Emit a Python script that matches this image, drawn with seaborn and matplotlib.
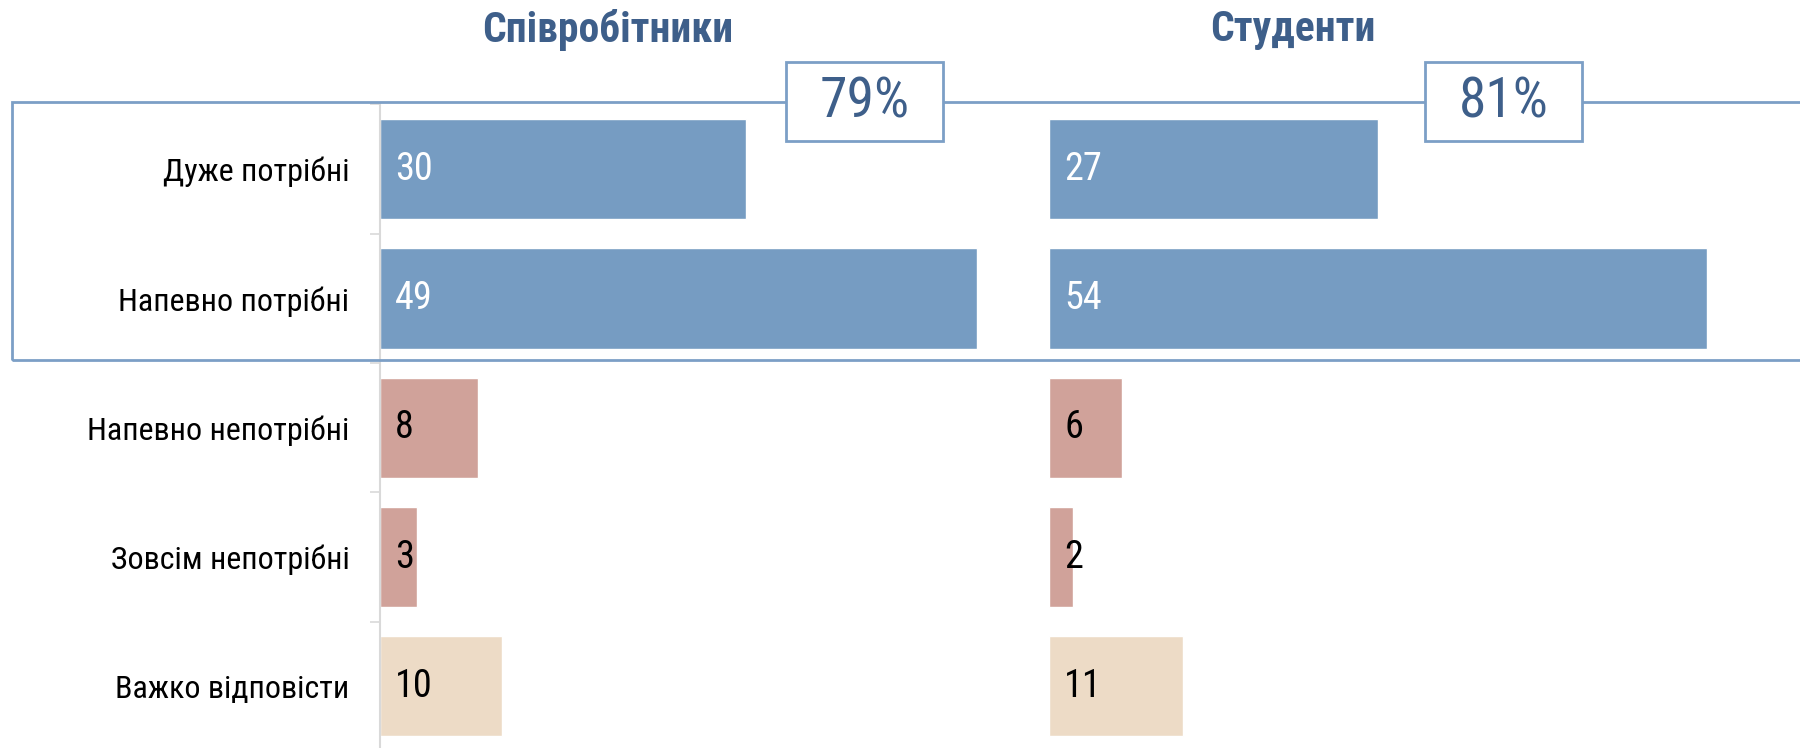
import matplotlib
matplotlib.use("Agg")
import matplotlib.pyplot as plt
from matplotlib import font_manager as fm
from matplotlib.patches import Rectangle
import seaborn as sns
import pandas as pd

categories = ["Дуже потрібні", "Напевно потрібні", "Напевно непотрібні",
              "Зовсім непотрібні", "Важко відповісти"]
staff_values = [30, 49, 8, 3, 10]
student_values = [27, 54, 6, 2, 11]
panel_titles = ["Співробітники", "Студенти"]
summary_labels = ["79%", "81%"]

bar_colors = ["#769CC2", "#769CC2", "#D0A29A", "#D0A29A", "#EDDBC6"]
label_colors = ["white", "white", "black", "black", "black"]
title_color = "#3E5F8A"
frame_color = "#7C9FC6"

sns.set_theme(style="white")
names = {f.name for f in fm.fontManager.ttflist}
cond = None
for n in ["Roboto Condensed", "Liberation Sans Narrow", "Open Sans Condensed"]:
    if n in names:
        cond = n
        break
base = cond if cond else "Roboto"
plt.rcParams["font.family"] = [base, "DejaVu Sans"]
stretch = "normal" if cond else "condensed"

W, H = 1800, 748
fig = plt.figure(figsize=(18, 7.48), dpi=100)

px_per_unit = 12.19
xmax = 55
ax_w = xmax * px_per_unit / W
bottom = 1 - 751 / H
ax_h = (751 - 104.5) / H

axes = [fig.add_axes([380 / W, bottom, ax_w, ax_h]),
        fig.add_axes([1049 / W, bottom, ax_w, ax_h])]
axes[1].patch.set_alpha(0)
axes[0].patch.set_alpha(0)

for i, (ax, vals) in enumerate(zip(axes, [staff_values, student_values])):
    df = pd.DataFrame({"cat": categories, "val": vals})
    sns.barplot(data=df, y="cat", x="val", hue="cat", palette=bar_colors,
                legend=False, orient="h", width=0.775, ax=ax, saturation=1)
    ax.set_xlim(0, xmax)
    ax.set_ylim(4.5, -0.5)
    ax.set_xlabel("")
    ax.set_ylabel("")
    ax.set_xticks([])
    for s in ["top", "right", "bottom"]:
        ax.spines[s].set_visible(False)
    for j, v in enumerate(vals):
        ax.text(1.25, j, str(v), ha="left", va="center", fontsize=27.5,
                color=label_colors[j], fontstretch=stretch)
    if i == 0:
        ax.spines["left"].set_color("#D9D9D9")
        ax.spines["left"].set_linewidth(1.5)
        ax.set_yticks(range(len(categories)))
        ax.set_yticklabels(categories, fontsize=23, color="black",
                           fontstretch=stretch)
        ax.tick_params(axis="y", which="major", length=0, pad=22)
        ax.set_yticks([-0.5, 0.5, 1.5, 2.5, 3.5], minor=True)
        ax.tick_params(axis="y", which="minor", length=7, width=1.2,
                       color="#D9D9D9", left=True)
    else:
        ax.spines["left"].set_visible(False)
        ax.set_yticks([])

# Frame around "needed" answers
fig.patches.append(Rectangle((12 / W, 1 - 360 / H), (1820 - 12) / W,
                             (360 - 102) / H, transform=fig.transFigure,
                             fill=False, edgecolor=frame_color, lw=2.0,
                             zorder=5))

# Summary boxes
for cx, lab in zip([864.5, 1503.5], summary_labels):
    bw, bh = 157, 79
    fig.patches.append(Rectangle(((cx - bw / 2) / W, 1 - (101.5 + bh / 2) / H),
                                 bw / W, bh / H, transform=fig.transFigure,
                                 facecolor="white", edgecolor=frame_color,
                                 lw=2.0, zorder=6))
    fig.text(cx / W, 1 - 101.5 / H, lab, ha="center", va="center",
             fontsize=40, color=title_color, zorder=7, fontstretch=stretch)

# Panel titles
for cx, t in zip([608, 1293], panel_titles):
    fig.text(cx / W, 1 - 30 / H, t, ha="center", va="center", fontsize=30,
             fontweight="bold", color=title_color, fontstretch=stretch)

fig.savefig("out.png", dpi=100, facecolor="white")
